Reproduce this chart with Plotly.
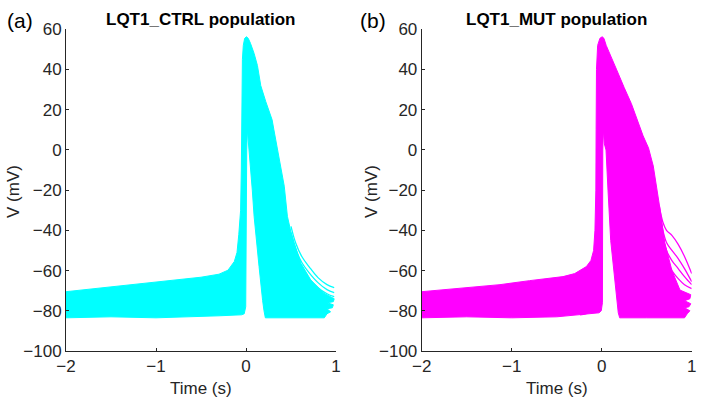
import plotly.graph_objects as go

# ---------------- data ----------------
# Panel (a): LQT1_CTRL population - outline of the dense band of traces
ctrl_env_t = [-2.0, -1.5, -1.0, -0.5, -0.3, -0.2, -0.13, -0.1, -0.08, -0.06, -0.052, -0.045, -0.04, -0.03,
              -0.015, 0.005, 0.025, 0.05, 0.09, 0.127, 0.164, 0.22, 0.29, 0.31, 0.387, 0.425, 0.46, 0.5,
              0.534, 0.61, 0.72, 0.866, 0.98, 0.97, 0.9, 0.97, 0.96, 0.9, 0.94, 0.9, 0.87, 0.5, 0.215,
              0.2, 0.185, 0.145, 0.09, 0.07, 0.045, 0.03, 0.015, 0.008, 0.002, -0.003, -0.02, -0.05,
              -0.3, -1.0, -1.5, -2.0]
ctrl_env_v = [-70.5, -68.0, -65.5, -63.3, -61.8, -59.8, -55.5, -51.0, -42.0, -30.0, -10.0, 20.0, 45.0, 52.0,
              55.5, 56.3, 55.5, 53.0, 48.0, 42.0, 32.0, 24.0, 15.0, 10.0, -8.0, -18.0, -33.0, -41.0,
              -46.0, -56.4, -64.7, -71.3, -74.0, -75.5, -76.0, -77.0, -78.5, -79.0, -80.5, -81.5, -83.5, -83.5, -83.5,
              -80.0, -75.0, -58.0, -33.0, -20.0, -5.0, 3.0, 10.0, 0.0, -40.0, -78.0, -81.5, -82.0,
              -82.5, -83.5, -83.0, -83.5]
# a few isolated traces leaving the band during repolarisation
ctrl_stray_t = [0.5, 0.55, 0.62, 0.7, 0.8, 0.9, 0.98]
ctrl_stray_1 = [-38.0, -46.0, -53.0, -58.0, -63.5, -67.0, -68.5]
ctrl_stray_2 = [-41.0, -49.0, -56.0, -61.0, -66.0, -69.5, -71.0]
ctrl_stray_3 = [-44.0, -52.0, -59.0, -64.0, -68.5, -71.5, -73.0]
ctrl_curl_t = [-0.28, -0.2, -0.12, -0.07, -0.04]
ctrl_curl_1 = [-81.5, -80.5, -79.5, -78.5, -77.0]
ctrl_curl_2 = [-82.0, -81.5, -80.5, -80.0, -79.0]

# Panel (b): LQT1_MUT population
mut_env_t = [-2.0, -1.5, -1.13, -0.8, -0.43, -0.3, -0.17, -0.12, -0.09, -0.075, -0.065, -0.062, -0.058, -0.045,
             -0.02, 0.005, 0.025, 0.05, 0.1, 0.14, 0.167, 0.25, 0.33, 0.46, 0.52, 0.573, 0.61, 0.65, 0.7,
             0.78, 0.87, 0.99, 0.98, 0.92, 0.99, 0.97, 0.92, 0.98, 0.95, 0.92, 0.5, 0.2,
             0.184, 0.17, 0.14, 0.1, 0.07, 0.048, 0.03, 0.018, 0.012, 0.01, 0.008, -0.005, -0.03,
             -0.5, -1.0, -1.5, -2.0]
mut_env_v = [-70.5, -68.5, -67.0, -65.0, -63.0, -61.5, -58.0, -55.0, -50.0, -40.0, -20.0, 10.0, 40.0, 52.0,
             55.5, 56.3, 55.5, 52.0, 47.0, 43.0, 39.8, 31.0, 23.0, 7.0, 1.0, -8.0, -18.0, -30.0, -46.0,
             -60.0, -69.7, -72.0, -74.0, -75.0, -76.5, -78.0, -78.5, -80.0, -81.5, -83.5, -83.5, -83.5,
             -81.0, -75.0, -62.0, -45.0, -20.0, 0.0, 3.0, 10.0, 0.0, -40.0, -76.0, -80.0, -81.0,
             -83.0, -83.5, -83.0, -83.5]
mut_stray_t = [0.64, 0.68, 0.72, 0.78, 0.85, 0.92, 1.0]
mut_stray_1 = [-28.0, -36.0, -40.0, -42.5, -47.0, -53.0, -61.5]
mut_stray_2 = [-30.0, -40.0, -46.0, -50.0, -54.0, -59.0, -65.5]
mut_stray_3 = [-32.0, -43.0, -50.0, -55.0, -59.0, -63.0, -67.0]
mut_stray_4 = [-34.0, -46.0, -54.0, -60.0, -64.0, -67.0, -69.0]
mut_curl_t = [-0.24, -0.18, -0.12, -0.07, -0.04]
mut_curl_1 = [-81.5, -80.5, -79.5, -78.5, -77.0]
mut_curl_2 = [-82.0, -81.5, -80.5, -80.0, -79.0]

x_ticks = [-2, -1, 0, 1]
y_ticks = [-100, -80, -60, -40, -20, 0, 20, 40, 60]
panel_titles = ["LQT1_CTRL population", "LQT1_MUT population"]
panel_tags = ["(a)", "(b)"]

CYAN = "#00FFFF"
MAGENTA = "#FF00FF"

fig = go.Figure()

def add_panel(xa, ya, env_t, env_v, stray_t, strays, curl_t, curls, color):
    fig.add_trace(go.Scatter(x=env_t, y=env_v, mode="lines", fill="toself", fillcolor=color,
                             line=dict(color=color, width=1), xaxis=xa, yaxis=ya,
                             hoverinfo="skip", showlegend=False))
    for s in strays:
        fig.add_trace(go.Scatter(x=stray_t, y=s, mode="lines", line=dict(color=color, width=1.3, shape="spline"),
                                 xaxis=xa, yaxis=ya, showlegend=False, hoverinfo="skip"))
    for c in curls:
        fig.add_trace(go.Scatter(x=curl_t, y=c, mode="lines", line=dict(color=color, width=1.2, shape="spline"),
                                 xaxis=xa, yaxis=ya, showlegend=False, hoverinfo="skip"))

add_panel("x", "y", ctrl_env_t, ctrl_env_v, ctrl_stray_t, [ctrl_stray_1, ctrl_stray_2, ctrl_stray_3],
          ctrl_curl_t, [ctrl_curl_1, ctrl_curl_2], CYAN)
add_panel("x2", "y2", mut_env_t, mut_env_v, mut_stray_t, [mut_stray_1, mut_stray_2, mut_stray_3, mut_stray_4],
          mut_curl_t, [mut_curl_1, mut_curl_2], MAGENTA)

W, H = 702, 405
ax_col = "#262626"
font_fam = "Arial, 'Liberation Sans', Helvetica, sans-serif"
dom_a = [66 / W, 336 / W]
dom_b = [421.7 / W, 691.7 / W]
dom_y = [1 - 351 / H, 1 - 29.3 / H]

def xaxis(dom, anchor):
    return dict(domain=dom, anchor=anchor, range=[-2, 1], tickvals=x_ticks, ticks="inside", ticklen=3,
                tickcolor=ax_col, showline=True, linecolor=ax_col, linewidth=1, showgrid=False,
                zeroline=False, automargin=False,
                tickfont=dict(family=font_fam, size=17, color=ax_col), fixedrange=True)

def yaxis(anchor):
    return dict(domain=dom_y, anchor=anchor, range=[-100, 60], tickvals=y_ticks, ticks="inside", ticklen=3,
                tickcolor=ax_col, showline=True, linecolor=ax_col, linewidth=1, showgrid=False,
                zeroline=False, automargin=False,
                tickfont=dict(family=font_fam, size=17, color=ax_col), fixedrange=True)

annotations = []
for dom, title, tag, ylab_x in [(dom_a, panel_titles[0], panel_tags[0], 13), (dom_b, panel_titles[1], panel_tags[1], 371)]:
    cx = (dom[0] + dom[1]) / 2
    annotations.append(dict(text="<b>" + title + "</b>", x=cx, y=1 - 19 / H, xref="paper", yref="paper",
                            xanchor="center", yanchor="middle", showarrow=False,
                            font=dict(family=font_fam, size=17, color="#000000")))
    annotations.append(dict(text="Time (s)", x=cx, y=1 - 388 / H, xref="paper", yref="paper",
                            xanchor="center", yanchor="middle", showarrow=False,
                            font=dict(family=font_fam, size=17, color=ax_col)))
    annotations.append(dict(text="V (mV)", x=ylab_x / W, y=1 - 192 / H, xref="paper", yref="paper",
                            xanchor="center", yanchor="middle", showarrow=False, textangle=-90,
                            font=dict(family=font_fam, size=17, color=ax_col)))
tag_x = [5, 358]
for tx, tag in zip(tag_x, panel_tags):
    annotations.append(dict(text=tag, x=tx / W, y=1 - 21 / H, xref="paper", yref="paper",
                            xanchor="left", yanchor="middle", showarrow=False,
                            font=dict(family=font_fam, size=21, color="#000000")))

fig.update_layout(
    width=W, height=H, margin=dict(l=0, r=0, t=0, b=0),
    paper_bgcolor="white", plot_bgcolor="white",
    xaxis=xaxis(dom_a, "y"), yaxis=yaxis("x"),
    xaxis2=xaxis(dom_b, "y2"), yaxis2=yaxis("x2"),
    annotations=annotations, showlegend=False, hovermode=False,
)

fig.write_html("out.html", config={"displayModeBar": False, "staticPlot": True},
               post_script="document.body.style.margin='0';document.body.style.overflow='hidden';")
